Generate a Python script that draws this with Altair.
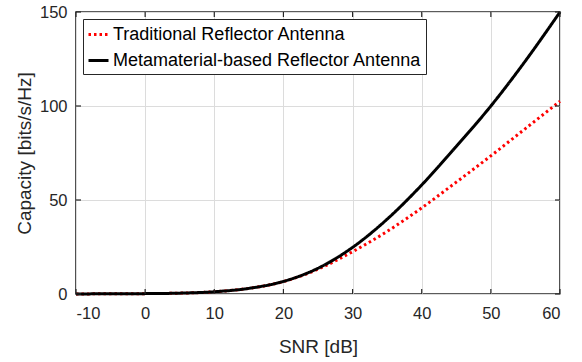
import altair as alt
import pandas as pd

# SNR sweep in dB
snr = [-10, -5, 0, 5, 10, 15, 20, 25, 30, 35, 40, 45, 50, 55, 60]

# Capacity in bits/s/Hz for each antenna type
traditional = [0.05, 0.1, 0.2, 0.45, 1.2, 3.0, 6.6, 13.2, 22.5, 33.3, 45.8, 59.5, 73.5, 88.0, 102.5]
metamaterial = [0.05, 0.1, 0.2, 0.45, 1.2, 3.0, 6.7, 13.7, 24.8, 39.8, 58.0, 78.5, 100.0, 124.0, 150.0]

series_names = ["Traditional Reflector Antenna", "Metamaterial-based Reflector Antenna"]
series_colors = ["#ff0000", "#000000"]
series_dashes = [[2.5, 3], [1, 0]]

x_ticks = [-10, 0, 10, 20, 30, 40, 50, 60]
y_ticks = [0, 50, 100, 150]

W, H = 484, 282
INK = "#262626"
FONT = "Liberation Sans"

df = pd.DataFrame(
    {
        "snr": snr * 2,
        "capacity": traditional + metamaterial,
        "series": [series_names[0]] * len(snr) + [series_names[1]] * len(snr),
    }
)
df_xt = pd.DataFrame({"snr": x_ticks})
df_yt = pd.DataFrame({"capacity": y_ticks})

x_scale = alt.Scale(domain=[-10, 60], nice=False, zero=False)
y_scale = alt.Scale(domain=[0, 150], nice=False)

color = alt.Color(
    "series:N",
    scale=alt.Scale(domain=series_names, range=series_colors),
    legend=alt.Legend(
        title=None,
        orient="top-left",
        offset=7,
        symbolType="stroke",
        symbolSize=400,
        symbolStrokeWidth=3,
        labelFont=FONT,
        labelFontSize=18,
        labelColor="#000000",
        labelLimit=0,
        labelOffset=3,
        padding=4,
        rowPadding=5,
        strokeColor=INK,
        fillColor="white",
        cornerRadius=0,
    ),
)
dash = alt.StrokeDash(
    "series:N",
    scale=alt.Scale(domain=series_names, range=series_dashes),
    legend=alt.Legend(title=None),
)

# plain hyphen for negative tick labels
plain_label = "'' + datum.value"

x_enc = alt.X(
    "snr:Q",
    scale=x_scale,
    axis=alt.Axis(values=x_ticks, title="SNR [dB]", labelExpr=plain_label),
)
y_enc = alt.Y(
    "capacity:Q",
    scale=y_scale,
    axis=alt.Axis(values=y_ticks, title="Capacity [bits/s/Hz]", labelExpr=plain_label),
)


def curve(name):
    return (
        alt.Chart(df)
        .transform_filter(alt.datum.series == name)
        .mark_line(strokeWidth=3, interpolate="monotone", strokeCap="butt")
        .encode(x=x_enc, y=y_enc, color=color, strokeDash=dash)
    )


# inward ticks on all four sides of the box
tick_style = dict(color=INK, strokeWidth=1.2)
x_ticks_bottom = alt.Chart(df_xt).mark_rule(**tick_style).encode(
    x=x_enc, y=alt.value(H), y2=alt.value(H - 5)
)
x_ticks_top = alt.Chart(df_xt).mark_rule(**tick_style).encode(
    x=x_enc, y=alt.value(0), y2=alt.value(5)
)
y_ticks_left = alt.Chart(df_yt).mark_rule(**tick_style).encode(
    y=y_enc, x=alt.value(0), x2=alt.value(5)
)
y_ticks_right = alt.Chart(df_yt).mark_rule(**tick_style).encode(
    y=y_enc, x=alt.value(W), x2=alt.value(W - 5)
)

chart = (
    alt.layer(
        curve(series_names[0]),
        curve(series_names[1]),
        x_ticks_bottom,
        x_ticks_top,
        y_ticks_left,
        y_ticks_right,
    )
    .properties(
        width=W,
        height=H,
        autosize=alt.AutoSizeParams(type="none"),
        padding={"left": 76, "top": 12, "right": 22, "bottom": 68},
        background="white",
    )
    .configure_view(stroke=INK, strokeWidth=1.6)
    .configure_axis(
        labelFont=FONT,
        labelFontSize=16.5,
        labelColor=INK,
        titleFont=FONT,
        titleFontSize=19,
        titleFontWeight="normal",
        titleColor=INK,
        ticks=False,
        domain=False,
        grid=True,
        gridColor="#dcdcdc",
        gridWidth=1,
    )
    .configure_axisX(labelPadding=11, titlePadding=16)
    .configure_axisY(labelPadding=9, titlePadding=5)
)

chart.save("out.html", embed_options={"renderer": "svg", "actions": False})
